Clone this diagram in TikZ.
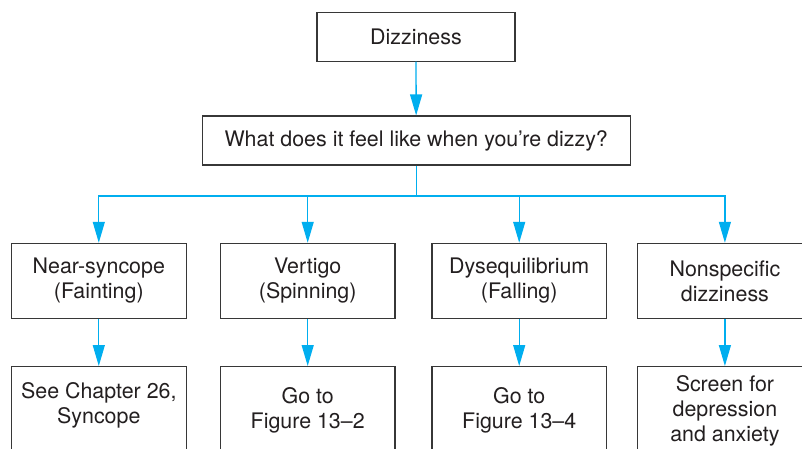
\documentclass[tikz,border=0pt]{standalone}
\usepackage{fontspec}
\setmainfont{TeX Gyre Heros}
\usetikzlibrary{arrows.meta}
\definecolor{cyanline}{RGB}{0,174,239}
\definecolor{boxline}{RGB}{55,55,55}
\definecolor{txt}{RGB}{35,31,32}
\begin{document}
\begin{tikzpicture}[x=1pt,y=-1pt,
  box/.style={draw=boxline, line width=1.1pt, inner sep=0pt, text=txt, align=center,
              font=\fontsize{21.4}{25}\selectfont},
  lvl/.style={box, minimum width=174.5pt, minimum height=75.2pt},
  res/.style={box, minimum width=174.5pt, minimum height=88pt, anchor=north},
  plain/.style={inner sep=0pt, text=txt, align=center, font=\fontsize{21.4}{25}\selectfont},
  conn/.style={draw=cyanline, line width=1.3pt},
  arr/.style={conn, -{Triangle[length=21pt,width=12pt]}}]
\useasboundingbox (0,0) rectangle (802,448);
\clip (0,0) rectangle (802,448);
\fill[white] (0,0) rectangle (802,448);

\node[box, minimum width=198pt, minimum height=48.7pt] (dz) at (416,36.7) {Dizziness};
\node[box, minimum width=427.7pt, minimum height=49pt] (q) at (416.2,140.5) {What does it feel like when you’re dizzy?};

\node[lvl] (a1) at (98.8,280.9) {Near-syncope\\(Fainting)};
\node[lvl] (a2) at (307.7,280.9) {Vertigo\\(Spinning)};
\node[lvl] (a3) at (519.2,280.9) {Dysequilibrium\\(Falling)};
\node[lvl] (a4) at (724.9,280.9) {Nonspecific\\dizziness};

\node[res] (b1) at (98.8,366) {};
\node[plain] (t1) at ([yshift=5pt]b1.center) {See Chapter 26,\\Syncope};
\node[res] (b2) at (307.7,366) {Go to\\Figure 13–2};
\node[res] (b3) at (519.2,366) {Go to\\Figure 13–4};
\node[res] (b4) at (724.9,366) {Screen for\\depression\\and anxiety};

\coordinate (bus) at (416.2,196);
\draw[arr] (dz) -- (q);
\draw[conn] (q.south) -- (bus);
\draw[arr] (bus) -| (a1.north);
\draw[arr] (bus) -| (a2.north);
\draw[arr] (bus) -| (a3.north);
\draw[arr] (bus) -| (a4.north);

\draw[arr] (a1) -- (b1);
\draw[arr] (a2) -- (b2);
\draw[arr] (a3) -- (b3);
\draw[arr] (a4) -- (b4);
\end{tikzpicture}
\end{document}
